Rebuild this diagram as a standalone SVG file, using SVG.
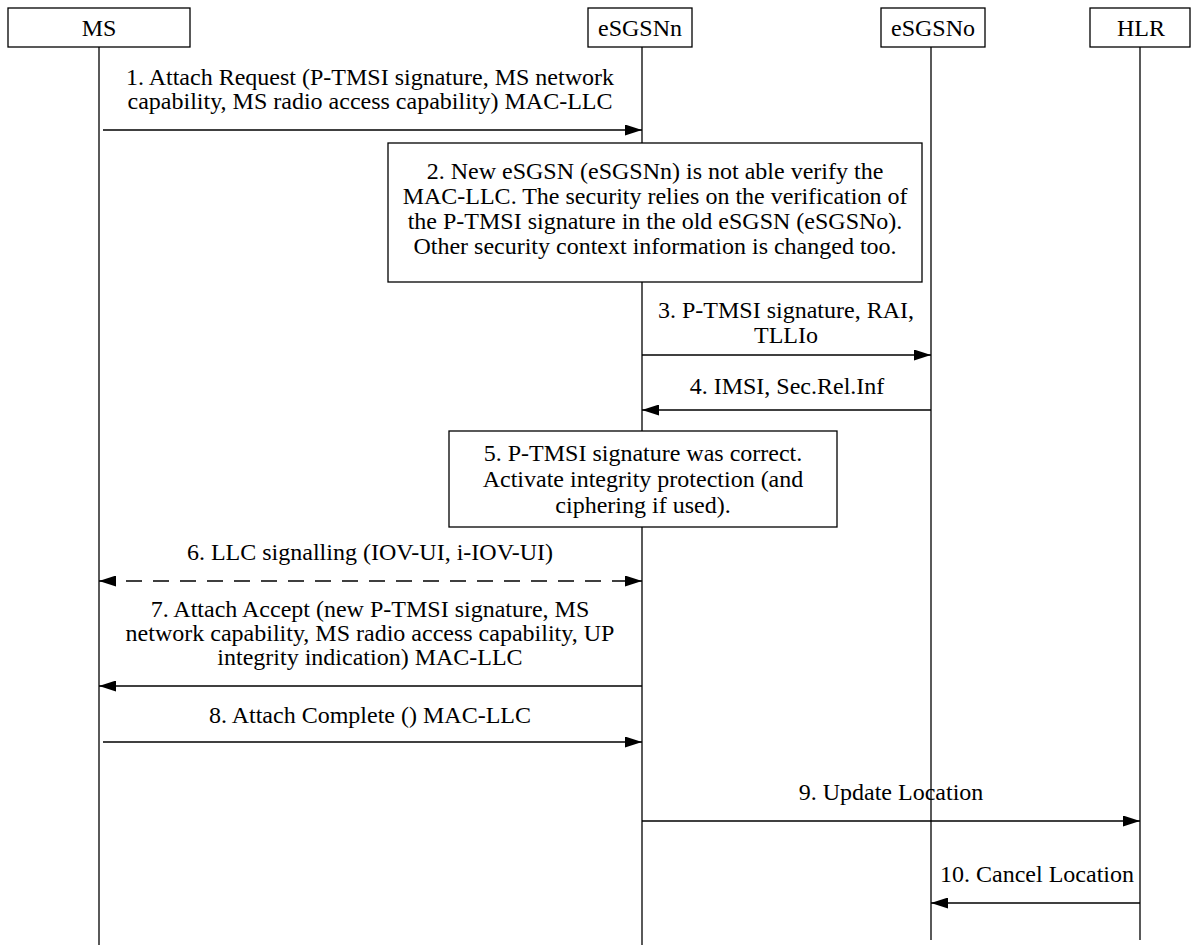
<svg xmlns="http://www.w3.org/2000/svg" width="1192" height="945" viewBox="0 0 1192 945">
<defs>
<marker id="ah" viewBox="0 0 17 11" refX="17" refY="5.5" markerWidth="17" markerHeight="11" markerUnits="userSpaceOnUse" orient="auto-start-reverse">
<path d="M0,0 L17,5.5 L0,11 Z" fill="#000"/>
</marker>
<style>
text{font-family:"Liberation Serif","Times New Roman",serif;font-size:24px;fill:#000;text-anchor:middle}
.box{fill:#fff;stroke:#000;stroke-width:1.3}
.life{stroke:#000;stroke-width:1.3;fill:none}
.msg{stroke:#000;stroke-width:1.5;fill:none}
.dash{stroke-dasharray:16,11}
</style>
</defs>
<rect width="1192" height="945" fill="#fff"/>
<g id="lifelines">
<line class="life" x1="99" y1="47" x2="99" y2="945"/>
<line class="life" x1="642" y1="47" x2="642" y2="945"/>
<line class="life" x1="931" y1="47" x2="931" y2="940"/>
<line class="life" x1="1140" y1="47" x2="1140" y2="940"/>
</g>
<g id="MS"><rect class="box" x="8" y="8" width="182" height="39"/><text x="99" y="36">MS</text></g>
<g id="eSGSNn"><rect class="box" x="588" y="8" width="104" height="39"/><text x="640" y="36">eSGSNn</text></g>
<g id="eSGSNo"><rect class="box" x="881" y="8" width="104" height="39"/><text x="933" y="36">eSGSNo</text></g>
<g id="HLR"><rect class="box" x="1090" y="8" width="100" height="39"/><text x="1141" y="36">HLR</text></g>
<g id="step2"><rect class="box" x="388" y="143" width="534" height="139"/>
<text x="655" y="179">2. New eSGSN (eSGSNn) is not able verify the</text>
<text x="655" y="204">MAC-LLC. The security relies on the verification of</text>
<text x="655" y="229">the P-TMSI signature in the old eSGSN (eSGSNo).</text>
<text x="655" y="254">Other security context information is changed too.</text>
</g>
<g id="step5"><rect class="box" x="449" y="431" width="388" height="96"/>
<text x="643" y="461">5. P-TMSI signature was correct.</text>
<text x="643" y="487">Activate integrity protection (and</text>
<text x="643" y="513">ciphering if used).</text>
</g>
<g id="connectors">
<line class="msg" x1="103" y1="130" x2="642" y2="130" marker-end="url(#ah)"/>
<line class="msg" x1="642" y1="355" x2="931" y2="355" marker-end="url(#ah)"/>
<line class="msg" x1="931" y1="410" x2="642" y2="410" marker-end="url(#ah)"/>
<line class="msg dash" x1="99" y1="581" x2="642" y2="581" marker-start="url(#ah)" marker-end="url(#ah)"/>
<line class="msg" x1="642" y1="686" x2="99" y2="686" marker-end="url(#ah)"/>
<line class="msg" x1="103" y1="742" x2="642" y2="742" marker-end="url(#ah)"/>
<line class="msg" x1="642" y1="821" x2="1140" y2="821" marker-end="url(#ah)"/>
<line class="msg" x1="1140" y1="903" x2="931" y2="903" marker-end="url(#ah)"/>
</g>
<g id="labels">
<text x="370" y="85">1. Attach Request (P-TMSI signature, MS network</text>
<text x="370" y="109">capability, MS radio access capability) MAC-LLC</text>
<text x="786" y="318">3. P-TMSI signature, RAI,</text>
<text x="786" y="343">TLLIo</text>
<text x="787" y="394">4. IMSI, Sec.Rel.Inf</text>
<text x="370" y="560">6. LLC signalling (IOV-UI, i-IOV-UI)</text>
<text x="370" y="617">7. Attach Accept (new P-TMSI signature, MS</text>
<text x="370" y="641">network capability, MS radio access capability, UP</text>
<text x="370" y="665">integrity indication) MAC-LLC</text>
<text x="370" y="723">8. Attach Complete () MAC-LLC</text>
<text x="891" y="800">9. Update Location</text>
<text x="1037" y="882">10. Cancel Location</text>
</g>
</svg>
